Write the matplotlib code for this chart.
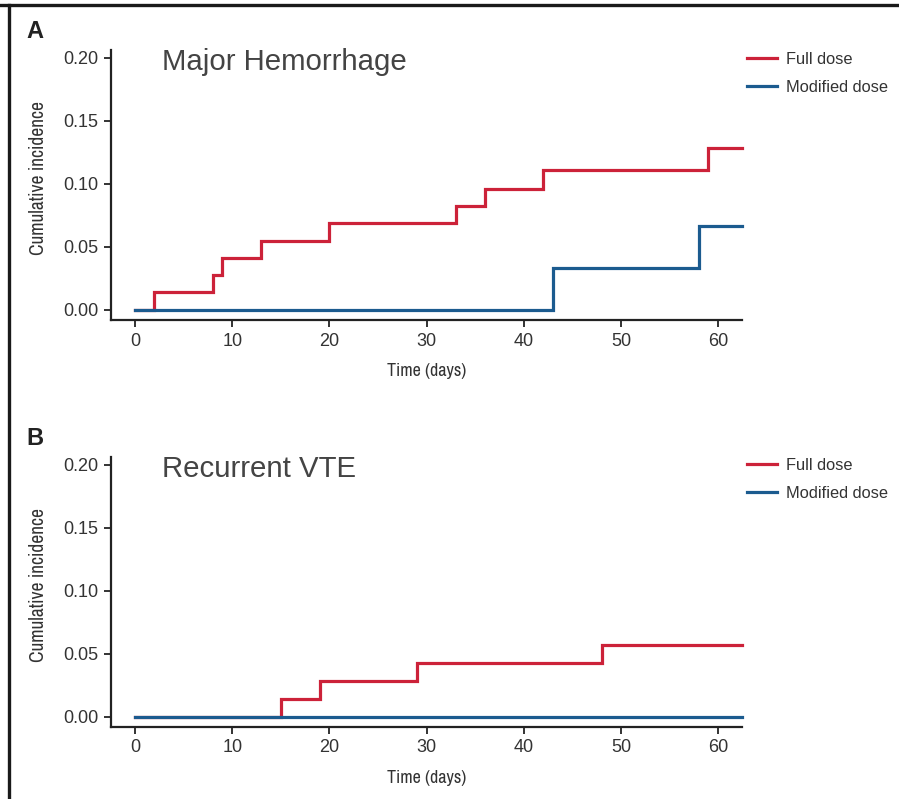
#!/usr/bin/env python3
"""Cumulative incidence of major hemorrhage and recurrent VTE by dose group."""
import matplotlib
matplotlib.use("Agg")
import matplotlib.pyplot as plt
from matplotlib import font_manager
from matplotlib.lines import Line2D

# follow-up end (days)
FOLLOW_UP_END = 62.5

# Panel A: major hemorrhage
hem_full_days = [0, 2, 8, 9, 13, 20, 33, 36, 42, 59]
hem_full_cuminc = [0.0, 0.0137, 0.0274, 0.0411, 0.0548, 0.0685, 0.0822, 0.0959, 0.1110, 0.1284]
hem_mod_days = [0, 43, 58]
hem_mod_cuminc = [0.0, 0.0333, 0.0667]

# Panel B: recurrent VTE
vte_full_days = [0, 15, 19, 29, 48]
vte_full_cuminc = [0.0, 0.0143, 0.0286, 0.0429, 0.0571]
vte_mod_days = [0]
vte_mod_cuminc = [0.0]

x_ticks = [0, 10, 20, 30, 40, 50, 60]
y_ticks = [0.00, 0.05, 0.10, 0.15, 0.20]

RED = "#cc2239"
BLUE = "#1b5b8f"
TEXT = "#333333"
SANS = ["Liberation Sans", "DejaVu Sans"]


def narrow_font():
    # upright, regular-weight condensed/narrow face for the axis titles
    def upright(f):
        return f.style == "normal" and f.weight in (400, "normal", "regular", "book")

    fonts = [f for f in font_manager.fontManager.ttflist if upright(f)]
    for f in fonts:
        name = f.name.lower()
        if ("narrow" in name or "condensed" in name) and "mono" not in name:
            return font_manager.FontProperties(fname=f.fname)
    for f in fonts:
        if f.stretch in ("condensed", "semi-condensed", "extra-condensed") or \
                "condensed" in f.fname.lower():
            return font_manager.FontProperties(fname=f.fname)
    return None


plt.rcParams["font.family"] = SANS

W, H = 899, 799
fig = plt.figure(figsize=(W / 100, H / 100), dpi=100)
NARROW_FP = narrow_font()


def px_axes(left, top, right, bottom):
    return fig.add_axes([left / W, 1 - bottom / H, (right - left) / W, (bottom - top) / H])


def step_series(ax, days, values, color, label):
    xs = list(days) + [FOLLOW_UP_END]
    ys = list(values) + [values[-1]]
    ax.step(xs, ys, where="post", color=color, linewidth=2.3, label=label,
            solid_joinstyle="miter", clip_on=False, zorder=3)


def axis_title_kw(size):
    if NARROW_FP is not None:
        fp = NARROW_FP.copy()
        fp.set_size(size)
        return {"fontproperties": fp}
    return {"fontsize": size * 0.85}


def draw_panel(ax, full, mod, title, letter, letter_y, legend_top):
    step_series(ax, full[0], full[1], RED, "Full dose")
    step_series(ax, mod[0], mod[1], BLUE, "Modified dose")

    ax.set_xlim(-2.47, 62.45)
    ax.set_ylim(-0.0082, 0.2063)
    ax.set_xticks(x_ticks)
    ax.set_yticks(y_ticks)
    ax.set_yticklabels([f"{v:.2f}" for v in y_ticks])
    for side in ("top", "right"):
        ax.spines[side].set_visible(False)
    for side in ("left", "bottom"):
        ax.spines[side].set_linewidth(1.6)
        ax.spines[side].set_color("#222222")
    ax.tick_params(axis="both", direction="out", length=5, width=1.4,
                   colors="#333333", labelsize=13, labelcolor=TEXT, pad=4)

    ax.set_xlabel("Time (days)", color=TEXT, labelpad=10, **axis_title_kw(13))
    ax.set_ylabel("Cumulative incidence", color=TEXT, **axis_title_kw(14))
    ax.yaxis.set_label_coords(-0.1, 0.525)

    ax.text(0.081, 0.955, title, transform=ax.transAxes, ha="left", va="center",
            fontsize=21.2, color="#444444")
    fig.text(26 / W, 1 - letter_y / H, letter, ha="left", va="center",
             fontsize=17, fontweight="bold", color="#222222")

    ax.legend(loc="upper left", bbox_to_anchor=(747 / W, 1 - legend_top / H),
              bbox_transform=fig.transFigure, frameon=False, borderpad=0,
              borderaxespad=0, fontsize=11.8, handlelength=1.85,
              handletextpad=0.5, labelspacing=0.78, labelcolor=TEXT)


ax_a = px_axes(111, 50, 742, 320)
draw_panel(ax_a, (hem_full_days, hem_full_cuminc), (hem_mod_days, hem_mod_cuminc),
           "Major Hemorrhage", "A", 32, 52)

ax_b = px_axes(111, 457, 742, 727)
draw_panel(ax_b, (vte_full_days, vte_full_cuminc), (vte_mod_days, vte_mod_cuminc),
           "Recurrent VTE", "B", 438, 458)

# border rules along the top and left edges
fig.add_artist(Line2D([0, 1], [1 - 4.5 / H, 1 - 4.5 / H], color="#1a1a1a",
                      linewidth=2.4, transform=fig.transFigure))
fig.add_artist(Line2D([9 / W, 9 / W], [0, 1 - 4.5 / H], color="#1a1a1a",
                      linewidth=2.4, transform=fig.transFigure))

fig.savefig("out.png", dpi=100)
